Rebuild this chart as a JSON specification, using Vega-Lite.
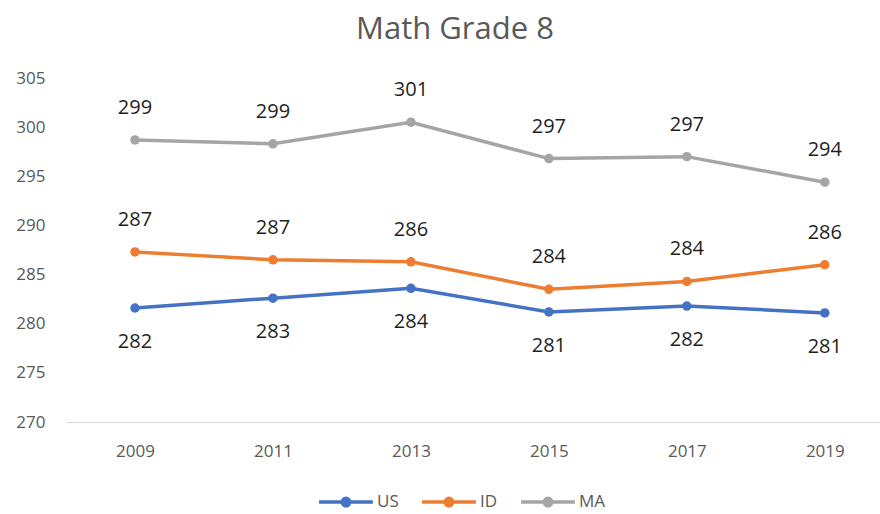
{
  "$schema": "https://vega.github.io/schema/vega-lite/v6.json",
  "autosize": "none",
  "width": 814,
  "height": 344,
  "padding": {"left": 66, "top": 78, "right": 0, "bottom": 92},
  "background": "white",
  "title": {"text": "Math Grade 8", "font": "Open Sans", "fontSize": 31, "fontWeight": "normal", "color": "#595959", "offset": 23, "dx": -18},
  "config": {"view": {"stroke": null}, "font": "Open Sans"},
  "data": {"values": [
    {"year": 2009, "group": "US", "score": 281.6, "label": "282"},
    {"year": 2011, "group": "US", "score": 282.6, "label": "283"},
    {"year": 2013, "group": "US", "score": 283.6, "label": "284"},
    {"year": 2015, "group": "US", "score": 281.2, "label": "281"},
    {"year": 2017, "group": "US", "score": 281.8, "label": "282"},
    {"year": 2019, "group": "US", "score": 281.1, "label": "281"},
    {"year": 2009, "group": "ID", "score": 287.3, "label": "287"},
    {"year": 2011, "group": "ID", "score": 286.5, "label": "287"},
    {"year": 2013, "group": "ID", "score": 286.3, "label": "286"},
    {"year": 2015, "group": "ID", "score": 283.5, "label": "284"},
    {"year": 2017, "group": "ID", "score": 284.3, "label": "284"},
    {"year": 2019, "group": "ID", "score": 286.0, "label": "286"},
    {"year": 2009, "group": "MA", "score": 298.7, "label": "299"},
    {"year": 2011, "group": "MA", "score": 298.3, "label": "299"},
    {"year": 2013, "group": "MA", "score": 300.5, "label": "301"},
    {"year": 2015, "group": "MA", "score": 296.8, "label": "297"},
    {"year": 2017, "group": "MA", "score": 297.0, "label": "297"},
    {"year": 2019, "group": "MA", "score": 294.4, "label": "294"}
  ]},
  "encoding": {
    "x": {"field": "year", "type": "quantitative",
      "scale": {"domain": [2008, 2019.8], "nice": false, "zero": false},
      "axis": {"title": null, "values": [2009, 2011, 2013, 2015, 2017, 2019], "format": "d", "grid": false, "ticks": false,
        "domainColor": "#d9d9d9", "domainWidth": 1, "labelFont": "Open Sans", "labelFontSize": 17, "labelColor": "#595959", "labelPadding": 21, "labelFlush": false}},
    "y": {"field": "score", "type": "quantitative",
      "scale": {"domain": [270, 305], "nice": false, "zero": false},
      "axis": {"title": null, "values": [270, 275, 280, 285, 290, 295, 300, 305], "grid": false, "ticks": false, "domain": false,
        "labelFont": "Open Sans", "labelFontSize": 17, "labelColor": "#595959", "labelPadding": 21}}
  },
  "layer": [
    {
      "mark": {"type": "line", "strokeWidth": 3.5, "point": {"filled": true, "size": 90}},
      "encoding": {
        "color": {"field": "group", "type": "nominal",
          "scale": {"domain": ["US", "ID", "MA"], "range": ["#4472C4", "#ED7D31", "#A5A5A5"]},
          "legend": {"title": null, "orient": "none", "direction": "horizontal", "legendX": 251, "legendY": 395,
            "symbolType": "M -1 0 L 1 0 M 0.14 0 A 0.14 0.14 0 1 1 -0.14 0 A 0.14 0.14 0 1 1 0.14 0 Z",
            "symbolSize": 2900, "symbolStrokeWidth": 3.5, "symbolOpacity": 1, "symbolDash": [],
            "labelFont": "Open Sans", "labelFontSize": 17, "labelColor": "#595959", "labelOffset": 2, "columnPadding": 16,
            "encode": {"symbols": {"update": {"stroke": {"scale": "color", "field": "value"}, "fill": {"scale": "color", "field": "value"}, "strokeWidth": {"value": 3.5}}}}}}
      }
    },
    {
      "transform": [{"filter": "datum.group !== 'US'"}],
      "mark": {"type": "text", "dy": -32, "fontSize": 20, "font": "Open Sans", "color": "#1f1f1f"},
      "encoding": {"text": {"field": "label"}}
    },
    {
      "transform": [{"filter": "datum.group === 'US'"}],
      "mark": {"type": "text", "dy": 34, "fontSize": 20, "font": "Open Sans", "color": "#1f1f1f"},
      "encoding": {"text": {"field": "label"}}
    }
  ]
}
